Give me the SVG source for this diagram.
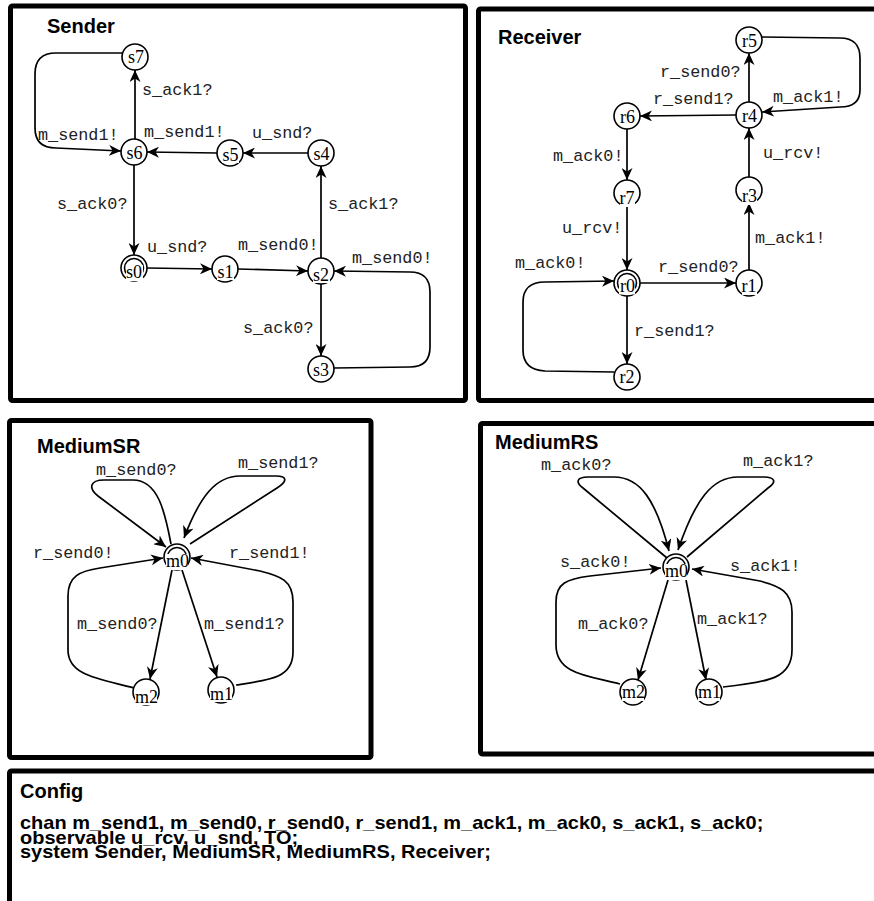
<svg xmlns="http://www.w3.org/2000/svg" width="874" height="901" viewBox="0 0 874 901">
<style>
.panel{fill:none;stroke:#000;stroke-width:5}
.title{font-family:"Liberation Sans",Arial,sans-serif;font-weight:bold;font-size:20px;fill:#000}
.cfg{font-family:"Liberation Sans",Arial,sans-serif;font-weight:bold;font-size:20px;fill:#000}
.node circle{fill:#fff;stroke:#000;stroke-width:1.6}
.node .init{fill:none}
.node rect{fill:#fff;stroke:none}
.node text{font-family:"Liberation Serif","Times New Roman",serif;font-size:18px;text-anchor:middle;fill:#000}
.edge{fill:none;stroke:#000;stroke-width:1.7}
.arr{marker-end:url(#ah)}
.lbl{font-family:"Liberation Mono","Courier New",monospace;font-size:16.8px;fill:#222}
</style>
<defs>
<marker id="ah" markerUnits="userSpaceOnUse" markerWidth="12" markerHeight="11" refX="12" refY="5.5" orient="auto">
<path d="M0,0 L12,5.5 L0,11 L3.5,5.5 z" fill="#000"/>
</marker>
</defs>
<rect width="874" height="901" fill="#fff"/>

<!-- ===== Sender ===== -->
<g id="sender">
<rect class="panel" x="10.5" y="6" width="455" height="394.5" rx="2"/>
<text class="title" x="47" y="33">Sender</text>
<g id="sender-edges">
<path class="edge arr" d="M135,139 L135,70"/>
<path class="edge arr" d="M122,53 L56,53 Q35,53 35,74 L35,128 Q35,148 56,148 L121,151"/>
<path class="edge arr" d="M217,153 L147,152"/>
<path class="edge arr" d="M308,153 L243,153"/>
<path class="edge arr" d="M321,258 L321,166"/>
<path class="edge arr" d="M134,165 L134,255"/>
<path class="edge arr" d="M147,268 L212,269"/>
<path class="edge arr" d="M238,269 L308,271"/>
<path class="edge arr" d="M321,284 L321,356"/>
<path class="edge arr" d="M334,368 L410,367 Q430,367 430,347 L430,292 Q430,272 410,272 L334,271"/>
<text class="lbl" x="142" y="95">s_ack1?</text>
<text class="lbl" x="38" y="140">m_send1!</text>
<text class="lbl" x="144" y="137">m_send1!</text>
<text class="lbl" x="252" y="138">u_snd?</text>
<text class="lbl" x="328" y="209">s_ack1?</text>
<text class="lbl" x="57" y="209">s_ack0?</text>
<text class="lbl" x="147" y="252">u_snd?</text>
<text class="lbl" x="238" y="250">m_send0!</text>
<text class="lbl" x="352" y="263">m_send0!</text>
<text class="lbl" x="243" y="333">s_ack0?</text>
</g>
<g id="s7" class="node"><circle cx="135" cy="57" r="13"/><rect x="127" y="51" width="17" height="15"/><text x="136" y="63">s7</text></g>
<g id="s6" class="node"><circle cx="134" cy="152" r="13"/><rect x="126" y="146" width="17" height="15"/><text x="134.5" y="159">s6</text></g>
<g id="s5" class="node"><circle cx="230" cy="153" r="13"/><rect x="222" y="148" width="17" height="15"/><text x="230.5" y="161">s5</text></g>
<g id="s4" class="node"><circle cx="321" cy="153" r="13"/><rect x="313" y="147" width="17" height="15"/><text x="321.5" y="160">s4</text></g>
<g id="s0" class="node"><circle cx="134" cy="268" r="13"/><circle class="init" cx="134" cy="268" r="9.5" stroke="#000" stroke-width="1.5"/><rect x="126" y="265" width="17" height="16"/><text x="134" y="278">s0</text></g>
<g id="s1" class="node"><circle cx="225" cy="269" r="13"/><rect x="217" y="265" width="17" height="15"/><text x="225.5" y="278">s1</text></g>
<g id="s2" class="node"><circle cx="321" cy="271" r="13"/><rect x="313" y="268" width="17" height="15"/><text x="321" y="281">s2</text></g>
<g id="s3" class="node"><circle cx="321" cy="369" r="13"/><rect x="313" y="363" width="17" height="15"/><text x="321" y="376">s3</text></g>
</g>

<!-- ===== Receiver ===== -->
<g id="receiver">
<rect class="panel" x="478.5" y="9" width="420" height="391.5" rx="2"/>
<text class="title" x="498" y="44">Receiver</text>
<g id="receiver-edges">
<path class="edge arr" d="M749,102 L749,53"/>
<path class="edge arr" d="M762,37 L840,38 Q860,38 860,58 L860,90 Q860,107 840,107 L762,112"/>
<path class="edge arr" d="M736,115 L640,116"/>
<path class="edge arr" d="M627,129 L627,180"/>
<path class="edge arr" d="M627,206 L627,270"/>
<path class="edge arr" d="M640,283 L736,283"/>
<path class="edge arr" d="M749,270 L749,203"/>
<path class="edge arr" d="M749,177 L749,128"/>
<path class="edge arr" d="M627,296 L627,364"/>
<path class="edge arr" d="M614,372 L545,371 Q523,370 523,350 L523,302 Q523,282 545,282 L614,281"/>
<text class="lbl" x="660" y="77">r_send0?</text>
<text class="lbl" x="773" y="102">m_ack1!</text>
<text class="lbl" x="653" y="104">r_send1?</text>
<text class="lbl" x="553" y="161">m_ack0!</text>
<text class="lbl" x="562" y="233">u_rcv!</text>
<text class="lbl" x="658" y="272">r_send0?</text>
<text class="lbl" x="755" y="243">m_ack1!</text>
<text class="lbl" x="763" y="158">u_rcv!</text>
<text class="lbl" x="634" y="336">r_send1?</text>
<text class="lbl" x="515" y="268">m_ack0!</text>
</g>
<g id="r5" class="node"><circle cx="749" cy="40" r="13"/><rect x="742" y="34" width="15" height="15"/><text x="749.5" y="47">r5</text></g>
<g id="r4" class="node"><circle cx="749" cy="115" r="13"/><rect x="742" y="109" width="15" height="15"/><text x="749.5" y="122">r4</text></g>
<g id="r6" class="node"><circle cx="627" cy="116" r="13"/><rect x="620" y="110" width="15" height="15"/><text x="627.5" y="123">r6</text></g>
<g id="r7" class="node"><circle cx="627" cy="193" r="13"/><rect x="620" y="191" width="15" height="16"/><text x="627" y="204">r7</text></g>
<g id="r3" class="node"><circle cx="749" cy="190" r="13"/><rect x="742" y="189" width="15" height="16"/><text x="749.5" y="202">r3</text></g>
<g id="r0" class="node"><circle cx="627" cy="283" r="13"/><circle class="init" cx="627" cy="283" r="9.5" stroke="#000" stroke-width="1.5"/><rect x="619" y="279.5" width="16" height="15"/><text x="627.5" y="292">r0</text></g>
<g id="r1" class="node"><circle cx="749" cy="283" r="13"/><rect x="742" y="280" width="15" height="15"/><text x="749" y="292">r1</text></g>
<g id="r2" class="node"><circle cx="627" cy="377" r="13"/><rect x="620" y="370" width="15" height="15"/><text x="627" y="383">r2</text></g>
</g>

<!-- ===== MediumSR ===== -->
<g id="mediumSR">
<rect class="panel" x="9.5" y="420.5" width="361.5" height="337" rx="2"/>
<text class="title" x="37" y="453">MediumSR</text>
<g id="mediumSR-edges">
<path class="edge arr" d="M172,570 L150,679"/>
<path class="edge arr" d="M182,570 L217,677"/>
<path class="edge arr" d="M171,544 C165,512 158,480 133,480 L104,480 C90,480 88,488 98,496 L166,547"/>
<path class="edge arr" d="M190,544 L277,488 C288,481 287,476 276,476 L240,476 C216,476 200,496 184,538"/>
<path class="edge arr" d="M134,688 C100,679 68,676 68,650 L68,596 C68,576 80,571 100,568 L163,558"/>
<path class="edge arr" d="M236,685 C270,680 293,678 293,652 L293,602 C293,580 280,576 260,571 L191,558"/>
<text class="lbl" x="96" y="475">m_send0?</text>
<text class="lbl" x="238" y="468">m_send1?</text>
<text class="lbl" x="33" y="558">r_send0!</text>
<text class="lbl" x="229" y="558">r_send1!</text>
<text class="lbl" x="77" y="629">m_send0?</text>
<text class="lbl" x="204" y="629">m_send1?</text>
</g>
<g id="sr-m0" class="node"><circle cx="177" cy="557" r="13"/><circle class="init" cx="177" cy="557" r="9.5" stroke="#000" stroke-width="1.5"/><rect x="166" y="554" width="22" height="16"/><text x="177.5" y="567">m0</text></g>
<g id="sr-m2" class="node"><circle cx="146" cy="692" r="13"/><rect x="135" y="689" width="22" height="16"/><text x="146.5" y="703">m2</text></g>
<g id="sr-m1" class="node"><circle cx="221" cy="690" r="13"/><rect x="210" y="687" width="22" height="15"/><text x="221.5" y="700">m1</text></g>
</g>

<!-- ===== MediumRS ===== -->
<g id="mediumRS">
<rect class="panel" x="480.5" y="423.5" width="420" height="330.5" rx="2"/>
<text class="title" x="495" y="449">MediumRS</text>
<g id="mediumRS-edges">
<path class="edge arr" d="M668,580 L638,680"/>
<path class="edge arr" d="M686,580 L706,680"/>
<path class="edge arr" d="M667,558 L583,488 C575,482 577,477 588,477 L614,477 C640,477 656,500 669,551"/>
<path class="edge arr" d="M687,557 L768,488 C777,482 775,477 764,477 L738,477 C712,477 695,500 678,550"/>
<path class="edge arr" d="M620,684 C590,676 556,675 556,645 L556,602 C556,583 567,579 590,576 L661,568"/>
<path class="edge arr" d="M723,687 C770,682 792,678 792,650 L792,612 C792,592 780,586 760,581 L692,569"/>
<text class="lbl" x="541" y="470">m_ack0?</text>
<text class="lbl" x="743" y="466">m_ack1?</text>
<text class="lbl" x="560" y="567">s_ack0!</text>
<text class="lbl" x="730" y="571">s_ack1!</text>
<text class="lbl" x="578" y="629">m_ack0?</text>
<text class="lbl" x="697" y="624">m_ack1?</text>
</g>
<g id="rs-m0" class="node"><circle cx="676" cy="567" r="13"/><circle class="init" cx="676" cy="567" r="9.5" stroke="#000" stroke-width="1.5"/><rect x="665" y="564" width="22" height="16"/><text x="676.5" y="577">m0</text></g>
<g id="rs-m2" class="node"><circle cx="633" cy="692" r="13"/><rect x="622" y="686" width="22" height="15"/><text x="633.5" y="698">m2</text></g>
<g id="rs-m1" class="node"><circle cx="709" cy="692" r="13"/><rect x="698" y="686" width="22" height="15"/><text x="709.5" y="698">m1</text></g>
</g>

<!-- ===== Config ===== -->
<g id="config">
<rect class="panel" x="9.5" y="771" width="900" height="200" rx="2"/>
<text class="title" x="20" y="798">Config</text>
<text class="cfg" transform="translate(20,829) scale(1,0.9)">chan m_send1, m_send0, r_send0, r_send1, m_ack1, m_ack0, s_ack1, s_ack0;</text>
<text class="cfg" transform="translate(20,843.5) scale(1,0.9)">observable u_rcv, u_snd, TO;</text>
<text class="cfg" transform="translate(20,858) scale(1,0.9)">system Sender, MediumSR, MediumRS, Receiver;</text>
</g>
</svg>
